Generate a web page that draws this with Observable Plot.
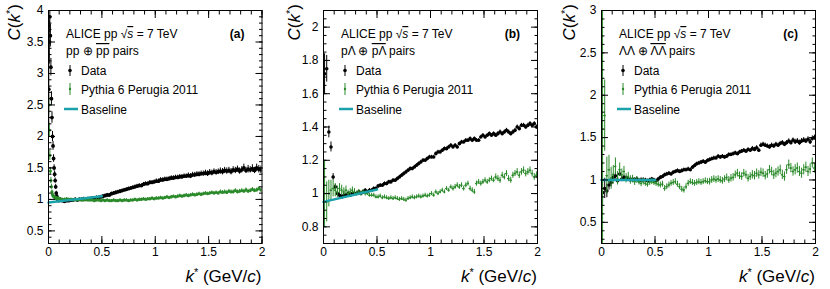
<!DOCTYPE html>
<html><head><meta charset="utf-8">
<script src="https://cdn.jsdelivr.net/npm/d3@7"></script>
<script src="https://cdn.jsdelivr.net/npm/@observablehq/plot@0.6"></script>
<style>
body{margin:0;background:#fff;}
#wrap{position:relative;width:830px;height:289px;background:#fff;}
#wrap svg{position:absolute;top:0;}
</style></head><body><div id="wrap"></div>
<script>
// ---------- bin centres (GeV/c) ----------
const kBins = [
0.01,0.03,0.05,0.07,0.09,0.11,0.13,0.15,0.17,0.19,
0.21,0.23,0.25,0.27,0.29,0.31,0.33,0.35,0.37,0.39,
0.41,0.43,0.45,0.47,0.49,0.51,0.53,0.55,0.57,0.59,
0.61,0.63,0.65,0.67,0.69,0.71,0.73,0.75,0.77,0.79,
0.81,0.83,0.85,0.87,0.89,0.91,0.93,0.95,0.97,0.99,
1.01,1.03,1.05,1.07,1.09,1.11,1.13,1.15,1.17,1.19,
1.21,1.23,1.25,1.27,1.29,1.31,1.33,1.35,1.37,1.39,
1.41,1.43,1.45,1.47,1.49,1.51,1.53,1.55,1.57,1.59,
1.61,1.63,1.65,1.67,1.69,1.71,1.73,1.75,1.77,1.79,
1.81,1.83,1.85,1.87,1.89,1.91,1.93,1.95,1.97,1.99];
const kLow = [
0.0025,0.0075,0.0125,0.0175,0.0225,0.0275,0.0325,0.0375,0.0425,0.0475,
0.0525,0.0575,0.0625,0.0675,0.0725,0.0775,0.0825,0.0875,0.0925,0.0975];

// ---------- panel (a): pp ----------
const dataA = [
2.75,3.50,3.90,3.60,3.10,2.60,2.30,2.00,1.85,1.65,
1.50,1.40,1.30,1.20,1.10,1.05,1.02,1.00,0.99,0.98,
1.00,0.98,0.97,0.98,0.98,
0.99,0.99,1.00,0.99,1.00,1.00,1.01,1.00,1.01,1.01,
1.02,1.02,1.03,1.03,1.04,1.05,1.06,1.07,1.07,1.09,
1.10,1.11,1.12,1.13,1.14,1.15,1.16,1.17,1.18,1.19,
1.20,1.21,1.22,1.22,1.24,1.25,1.25,1.27,1.27,1.28,
1.29,1.29,1.31,1.31,1.32,1.32,1.33,1.34,1.34,1.35,
1.35,1.36,1.36,1.37,1.37,1.38,1.37,1.39,1.39,1.40,
1.40,1.41,1.41,1.42,1.41,1.43,1.42,1.44,1.43,1.44,
1.45,1.44,1.46,1.45,1.46,1.44,1.47,1.46,1.48,1.45,
1.47,1.50,1.46,1.48,1.47,1.49,1.46,1.50,1.48,1.47];
const dataErrA = [
0.60,0.35,0.25,0.18,0.14,0.11,0.09,0.08,0.07,0.06,
0.05,0.05,0.04,0.04,0.03,0.03,0.03,0.025,0.025,0.025,
0.025,0.025,0.025,0.025,0.025,
0.025,0.025,0.025,0.025,0.025,0.025,0.025,0.025,0.025,0.025,
0.025,0.025,0.025,0.025,0.025,0.025,0.025,0.025,0.025,0.025,
0.025,0.025,0.025,0.025,0.025,0.025,0.025,0.025,0.025,0.025,
0.03,0.03,0.03,0.03,0.03,0.03,0.03,0.03,0.03,0.03,
0.035,0.035,0.035,0.035,0.035,0.035,0.035,0.035,0.035,0.035,
0.035,0.035,0.035,0.035,0.035,0.04,0.04,0.04,0.04,0.04,
0.04,0.04,0.04,0.045,0.045,0.045,0.045,0.045,0.045,0.045,
0.05,0.05,0.05,0.05,0.05,0.05,0.05,0.05,0.05,0.05,
0.05,0.06,0.05,0.06,0.05,0.06,0.05,0.06,0.06,0.06];
const mcA = [
2.50,2.10,1.70,1.45,1.30,1.20,1.12,1.08,1.06,1.05,
1.04,1.03,1.03,1.02,1.02,1.02,1.01,1.01,1.01,1.01,
1.01,1.00,1.00,1.01,1.00,
1.00,0.99,1.00,0.99,1.00,0.99,0.99,1.00,0.99,0.99,
0.99,0.98,0.99,0.99,0.98,0.99,0.98,0.99,0.98,0.98,
0.99,0.98,0.98,0.99,0.98,0.99,0.99,0.98,0.99,0.99,
1.00,0.99,1.00,1.00,1.01,1.00,1.01,1.01,1.02,1.01,
1.02,1.02,1.03,1.02,1.03,1.04,1.03,1.04,1.05,1.04,
1.05,1.06,1.05,1.06,1.07,1.06,1.07,1.08,1.07,1.08,
1.09,1.08,1.09,1.10,1.09,1.10,1.11,1.10,1.11,1.10,
1.12,1.11,1.12,1.11,1.13,1.12,1.12,1.14,1.12,1.13,
1.14,1.13,1.15,1.13,1.14,1.16,1.14,1.15,1.17,1.15];
const mcErrA = [
0.15,0.10,0.08,0.06,0.05,0.04,0.03,0.03,0.025,0.025,
0.025,0.025,0.025,0.025,0.025,0.025,0.025,0.025,0.025,0.025,
0.02,0.02,0.02,0.02,0.02,
0.02,0.02,0.02,0.02,0.02,0.02,0.02,0.02,0.02,0.02,
0.02,0.02,0.02,0.02,0.02,0.02,0.02,0.02,0.02,0.02,
0.02,0.02,0.02,0.02,0.02,0.02,0.02,0.02,0.02,0.02,
0.02,0.02,0.02,0.02,0.02,0.02,0.02,0.02,0.02,0.02,
0.02,0.02,0.02,0.02,0.02,0.02,0.02,0.02,0.02,0.02,
0.025,0.025,0.025,0.025,0.025,0.025,0.025,0.025,0.025,0.025,
0.025,0.025,0.025,0.025,0.025,0.025,0.025,0.025,0.025,0.025,
0.03,0.03,0.03,0.03,0.03,0.03,0.03,0.03,0.03,0.03,
0.03,0.03,0.03,0.03,0.03,0.03,0.03,0.03,0.03,0.03];
const baseKA = [0, 0.5], baseVA = [0.95, 1.05];

// ---------- panel (b): p-Lambda ----------
const dataB = [
1.72,1.75,1.37,1.28,1.10,1.04,1.00,0.99,0.98,0.99,
0.99,1.00,0.99,1.00,1.00,1.00,1.01,1.00,1.01,1.02,
1.01,1.02,1.02,1.03,1.03,1.045,1.05,1.05,1.06,1.06,
1.07,1.07,1.08,1.08,1.09,1.10,1.11,1.12,1.13,1.14,
1.15,1.15,1.16,1.17,1.18,1.19,1.20,1.20,1.21,1.22,
1.22,1.22,1.24,1.25,1.25,1.26,1.27,1.27,1.28,1.29,
1.28,1.29,1.28,1.30,1.31,1.31,1.32,1.32,1.33,1.32,
1.33,1.32,1.32,1.34,1.35,1.34,1.35,1.36,1.35,1.36,
1.35,1.36,1.37,1.36,1.37,1.38,1.37,1.36,1.37,1.38,
1.40,1.39,1.41,1.41,1.40,1.41,1.42,1.41,1.42,1.40];
const dataErrB = [
0.12,0.08,0.035,0.03,0.02,0.015,0.013,0.012,0.012,0.012,
0.012,0.011,0.011,0.011,0.011,0.01,0.01,0.01,0.01,0.01,
0.01,0.01,0.01,0.01,0.01,0.01,0.01,0.01,0.01,0.01,
0.01,0.01,0.01,0.01,0.01,0.01,0.01,0.01,0.01,0.01,
0.01,0.01,0.01,0.01,0.01,0.01,0.01,0.01,0.01,0.01,
0.01,0.01,0.01,0.01,0.01,0.01,0.01,0.01,0.01,0.01,
0.01,0.01,0.01,0.01,0.01,0.01,0.01,0.01,0.01,0.01,
0.01,0.01,0.01,0.01,0.01,0.01,0.01,0.01,0.01,0.01,
0.012,0.012,0.012,0.012,0.012,0.012,0.012,0.012,0.012,0.012,
0.012,0.012,0.012,0.012,0.012,0.012,0.012,0.012,0.012,0.012];
const mcB = [
1.00,0.95,1.00,1.02,1.03,1.02,1.01,1.03,1.02,1.01,
1.02,1.00,1.01,1.02,1.01,1.00,1.01,1.00,1.01,1.00,
1.00,0.99,0.99,0.99,0.98,0.98,0.985,0.975,0.98,0.975,
0.97,0.975,0.97,0.975,0.97,0.965,0.97,0.965,0.96,0.97,
0.975,0.98,0.975,0.98,0.985,0.98,0.985,0.99,0.985,0.99,
1.00,0.99,1.01,1.00,1.01,1.02,1.01,1.03,1.02,1.04,
1.03,1.04,1.05,1.04,1.05,1.03,1.05,1.06,1.03,1.02,
1.01,1.06,1.07,1.06,1.07,1.08,1.07,1.08,1.09,1.08,
1.10,1.09,1.08,1.11,1.10,1.12,1.09,1.08,1.11,1.12,
1.13,1.11,1.13,1.14,1.12,1.13,1.14,1.12,1.10,1.11];
const mcErrB = [
0.20,0.12,0.08,0.06,0.05,0.04,0.035,0.03,0.03,0.025,
0.025,0.02,0.02,0.02,0.02,0.015,0.015,0.015,0.015,0.015,
0.012,0.012,0.012,0.012,0.012,0.012,0.012,0.012,0.012,0.012,
0.012,0.012,0.012,0.012,0.012,0.012,0.012,0.012,0.012,0.012,
0.012,0.012,0.012,0.012,0.012,0.012,0.012,0.012,0.012,0.012,
0.012,0.012,0.012,0.012,0.012,0.012,0.012,0.012,0.012,0.012,
0.015,0.015,0.015,0.015,0.015,0.015,0.015,0.015,0.015,0.015,
0.015,0.015,0.015,0.015,0.015,0.015,0.015,0.015,0.015,0.015,
0.018,0.018,0.018,0.018,0.018,0.018,0.018,0.018,0.018,0.018,
0.02,0.02,0.02,0.02,0.02,0.02,0.02,0.02,0.02,0.02];
const baseKB = [0, 0.5], baseVB = [0.95, 1.024];

// ---------- panel (c): Lambda-Lambda ----------
const dataC = [
0.85,0.90,0.87,0.94,0.97,1.03,1.05,0.99,1.07,1.01,
1.03,1.02,1.01,1.00,1.01,1.00,1.01,0.99,1.00,1.00,
1.00,0.99,1.00,1.01,1.00,0.99,1.01,1.03,1.04,1.06,
1.07,1.08,1.07,1.09,1.10,1.11,1.10,1.11,1.12,1.12,
1.13,1.12,1.15,1.17,1.19,1.20,1.21,1.22,1.21,1.23,
1.24,1.25,1.26,1.26,1.28,1.27,1.28,1.27,1.28,1.30,
1.30,1.31,1.32,1.31,1.33,1.34,1.35,1.34,1.36,1.35,
1.37,1.36,1.38,1.35,1.41,1.42,1.41,1.40,1.39,1.41,
1.40,1.42,1.41,1.43,1.44,1.42,1.44,1.46,1.44,1.47,
1.45,1.46,1.44,1.46,1.47,1.46,1.48,1.45,1.49,1.50];
const dataErrC = [
0.15,0.12,0.08,0.06,0.05,0.04,0.04,0.03,0.03,0.03,
0.025,0.025,0.025,0.025,0.025,0.025,0.025,0.025,0.025,0.025,
0.02,0.02,0.02,0.02,0.02,0.02,0.02,0.02,0.02,0.02,
0.02,0.02,0.02,0.02,0.02,0.02,0.02,0.02,0.02,0.02,
0.02,0.02,0.02,0.02,0.02,0.02,0.02,0.02,0.02,0.02,
0.02,0.02,0.02,0.02,0.02,0.02,0.02,0.02,0.02,0.02,
0.02,0.02,0.02,0.02,0.02,0.02,0.02,0.02,0.02,0.02,
0.025,0.025,0.025,0.025,0.025,0.025,0.025,0.025,0.025,0.025,
0.025,0.025,0.025,0.025,0.025,0.025,0.025,0.025,0.025,0.025,
0.03,0.03,0.03,0.03,0.03,0.03,0.03,0.03,0.03,0.03];
const mcC = [
1.60,1.76,1.05,1.12,1.02,1.06,1.16,1.02,1.12,1.06,
1.10,1.02,1.04,1.00,1.01,0.98,1.00,0.98,0.96,0.98,
0.96,0.95,0.97,0.98,0.97,0.96,0.95,0.94,0.95,0.90,
0.92,0.94,0.96,0.97,0.98,0.95,0.92,0.89,0.88,0.92,
0.96,0.98,0.97,0.96,0.97,0.98,0.97,0.98,0.99,0.98,
0.98,1.00,1.01,1.00,1.01,1.00,0.99,1.01,1.03,1.00,
1.02,1.03,1.06,1.08,1.05,1.04,1.08,1.06,1.02,1.04,
1.06,1.05,1.08,1.06,1.09,1.08,1.05,1.07,1.12,1.10,
1.06,1.08,1.10,1.12,1.06,1.04,1.12,1.18,1.14,1.10,
1.12,1.14,1.10,1.08,1.12,1.15,1.10,1.13,1.20,1.14];
const mcErrC = [
1.60,0.42,0.22,0.17,0.13,0.11,0.10,0.08,0.08,0.07,
0.06,0.055,0.05,0.05,0.045,0.045,0.04,0.04,0.04,0.04,
0.035,0.035,0.035,0.035,0.035,0.035,0.035,0.035,0.035,0.035,
0.035,0.035,0.035,0.035,0.035,0.035,0.035,0.035,0.035,0.035,
0.035,0.035,0.035,0.035,0.035,0.035,0.035,0.035,0.035,0.035,
0.04,0.04,0.04,0.04,0.04,0.04,0.04,0.04,0.04,0.04,
0.045,0.045,0.045,0.045,0.045,0.045,0.045,0.045,0.045,0.045,
0.05,0.05,0.05,0.05,0.05,0.05,0.05,0.05,0.05,0.05,
0.055,0.055,0.055,0.055,0.055,0.055,0.055,0.055,0.055,0.055,
0.06,0.06,0.06,0.06,0.06,0.06,0.06,0.06,0.06,0.06];
const baseKC = [0, 0.5], baseVC = [1.0, 1.0];

// ---------- ticks & labels ----------
const xTicks = [0, 0.5, 1, 1.5, 2];
const yTicksA = [0.5, 1, 1.5, 2, 2.5, 3, 3.5, 4];
const yTicksB = [0.8, 1, 1.2, 1.4, 1.6, 1.8, 2];
const yTicksC = [0.5, 1, 1.5, 2, 2.5, 3];
const legendData = "Data";
const legendMC = "Pythia 6 Perugia 2011";
const legendBase = "Baseline";

const FONT = "'Liberation Sans', Arial, Helvetica, sans-serif";
const GREEN = "#2a8a2a", TEAL = "#1aa1aa";

function rows(k, v, e) { return k.map((kk, i) => ({k: kk, v: v[i], e: e[i]})); }

function tickMarks(axis, values, anchor, size) {
  const o = {ticks: values, anchor, tickSize: size, tickFormat: () => "", label: null};
  if (anchor === "left") o.dx = size;
  if (anchor === "right") o.dx = -size;
  if (anchor === "bottom") o.dy = -size;
  if (anchor === "top") o.dy = size;
  return axis(o);
}

function panel(cfg) {
  const data = rows(cfg.k, cfg.data, cfg.dataErr);
  const mc = rows(cfg.k, cfg.mc, cfg.mcErr);
  const base = cfg.baseK.map((k, i) => ({k, v: cfg.baseV[i]}));
  const [y0, y1] = cfg.yDomain;
  const st = cfg.yMinorStep;
  const yMinor = d3.range(Math.round(y0 / st), Math.round(y1 / st) + 1).map(i => +(i * st).toFixed(3));
  const xMinor = d3.range(0, 21).map(i => i / 10);
  const marks = [
    Plot.ruleX(data, {x: "k", y1: d => d.v - d.e, y2: d => d.v + d.e, stroke: "black", strokeWidth: 1, clip: true}),
    Plot.dot(data, {x: "k", y: "v", r: cfg.dataR, fill: "black", stroke: "none", clip: true}),
    Plot.ruleX(mc, {x: "k", y1: d => d.v - d.e, y2: d => d.v + d.e, stroke: GREEN, strokeWidth: 1, clip: true}),
    Plot.ruleY(mc, {y: "v", x1: d => Math.max(0, d.k - cfg.halfBin), x2: d => d.k + cfg.halfBin, stroke: GREEN, strokeWidth: 1, clip: true}),
    Plot.dot(mc, {x: "k", y: "v", r: cfg.mcR, fill: GREEN, stroke: "none", clip: true}),
    Plot.line(base, {x: "k", y: "v", stroke: TEAL, strokeWidth: 2.5}),
    Plot.frame({stroke: "black", strokeWidth: 1}),
    tickMarks(Plot.axisY, cfg.yTicks, "left", 7),
    tickMarks(Plot.axisY, yMinor, "left", 3.5),
    tickMarks(Plot.axisY, cfg.yTicks, "right", 7),
    tickMarks(Plot.axisY, yMinor, "right", 3.5),
    tickMarks(Plot.axisX, xTicks, "bottom", 7),
    tickMarks(Plot.axisX, xMinor, "bottom", 3.5),
    tickMarks(Plot.axisX, xTicks, "top", 7),
    tickMarks(Plot.axisX, xMinor, "top", 3.5),
    Plot.axisY({ticks: cfg.yTicks, anchor: "left", tickSize: 0, tickPadding: 5, tickFormat: d => String(d), label: null, fontSize: 12}),
    Plot.axisX({ticks: xTicks, anchor: "bottom", tickSize: 0, tickPadding: 4, tickFormat: d => String(d), label: null, fontSize: 12})
  ];
  const svg = Plot.plot({
    width: cfg.w, height: 289,
    marginLeft: cfg.ml, marginRight: cfg.mr, marginTop: 10, marginBottom: 46,
    x: {domain: [0, 2], label: null},
    y: {domain: cfg.yDomain, label: null},
    style: {fontFamily: FONT, fontSize: "12px", color: "black", background: "white", overflow: "visible"},
    marks
  });
  svg.style.left = cfg.left + "px";

  const L = cfg.ml, R = cfg.w - cfg.mr;
  const s = d3.select(svg);
  const g = s.append("g").attr("font-family", FONT).attr("font-size", 12).attr("fill", "black").attr("text-anchor", "start");
  // line 1
  const t1 = g.append("text").attr("x", L + 18).attr("y", 38);
  t1.append("tspan").text("ALICE pp ");
  t1.append("tspan").text("\u221A");
  t1.append("tspan").attr("font-style", "italic").style("text-decoration", "overline").text("s");
  t1.append("tspan").text(" = 7 TeV");
  // line 2
  const t2 = g.append("text").attr("x", L + 18).attr("y", 55);
  cfg.pairs.forEach(([txt, over]) => {
    const sp = t2.append("tspan").text(txt);
    if (over) sp.style("text-decoration", "overline");
  });
  // panel tag
  g.append("text").attr("x", R - 17).attr("y", 38).attr("text-anchor", "end").attr("font-weight", "bold").text(cfg.tag);
  // legend entries
  g.append("line").attr("x1", L + 22).attr("x2", L + 22).attr("y1", 65).attr("y2", 76).attr("stroke", "black");
  g.append("circle").attr("cx", L + 22).attr("cy", 70.5).attr("r", 1.8).attr("fill", "black");
  g.append("text").attr("x", L + 33).attr("y", 75).text(legendData);
  g.append("line").attr("x1", L + 22).attr("x2", L + 22).attr("y1", 83).attr("y2", 95).attr("stroke", GREEN);
  g.append("circle").attr("cx", L + 22).attr("cy", 89).attr("r", 1.2).attr("fill", GREEN);
  g.append("text").attr("x", L + 33).attr("y", 94).text(legendMC);
  g.append("line").attr("x1", L + 16).attr("x2", L + 30).attr("y1", 109).attr("y2", 109).attr("stroke", TEAL).attr("stroke-width", 2.5);
  g.append("text").attr("x", L + 33).attr("y", 114).text(legendBase);
  // y title
  const yt = g.append("text").attr("transform", `translate(${cfg.ytx},4) rotate(-90)`).attr("text-anchor", "end").attr("font-size", 17);
  yt.append("tspan").attr("font-style", "italic").text("C");
  yt.append("tspan").text("(");
  yt.append("tspan").attr("font-style", "italic").text("k");
  yt.append("tspan").attr("font-size", 11).attr("dy", -6).text("*");
  yt.append("tspan").attr("dy", 6).text(")");
  // x title
  const xt = g.append("text").attr("x", R).attr("y", 282).attr("text-anchor", "end").attr("font-size", 17);
  xt.append("tspan").attr("font-style", "italic").text("k");
  xt.append("tspan").attr("font-size", 11).attr("dy", -6).text("*");
  xt.append("tspan").attr("dy", 6).text(" (GeV/");
  xt.append("tspan").attr("font-style", "italic").text("c");
  xt.append("tspan").text(")");
  return svg;
}

const wrap = document.getElementById("wrap");
wrap.appendChild(panel({
  left: 0, w: 277, ml: 48, mr: 15.5, ytx: 20,
  k: kLow.concat(kBins.slice(5)), data: dataA, dataErr: dataErrA, mc: mcA, mcErr: mcErrA,
  baseK: baseKA, baseV: baseVA, yDomain: [0.3, 4], yTicks: yTicksA, yMinorStep: 0.1,
  dataR: 1.9, mcR: 1.6, halfBin: 0,
  tag: "(a)", pairs: [["pp \u2295 ", false], ["pp", true], [" pairs", false]]
}));
wrap.appendChild(panel({
  left: 277, w: 277, ml: 46, mr: 17, ytx: 23,
  k: kBins, data: dataB, dataErr: dataErrB, mc: mcB, mcErr: mcErrB,
  baseK: baseKB, baseV: baseVB, yDomain: [0.7, 2.1], yTicks: yTicksB, yMinorStep: 0.05,
  dataR: 1.8, mcR: 1.0, halfBin: 0.01,
  tag: "(b)", pairs: [["p\u039B \u2295 ", false], ["p\u039B", true], [" pairs", false]]
}));
wrap.appendChild(panel({
  left: 554, w: 276, ml: 47, mr: 15, ytx: 21,
  k: kBins, data: dataC, dataErr: dataErrC, mc: mcC, mcErr: mcErrC,
  baseK: baseKC, baseV: baseVC, yDomain: [0.25, 3], yTicks: yTicksC, yMinorStep: 0.1,
  dataR: 1.8, mcR: 1.0, halfBin: 0.01,
  tag: "(c)", pairs: [["\u039B\u039B \u2295 ", false], ["\u039B\u039B", true], [" pairs", false]]
}));
</script></body></html>
